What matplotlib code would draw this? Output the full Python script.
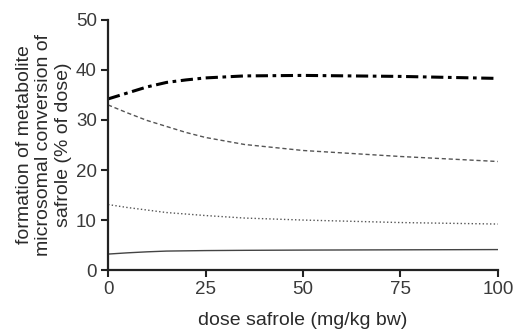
import matplotlib.pyplot as plt

plt.rcParams['font.family'] = ['Liberation Sans', 'DejaVu Sans']

# dose safrole (mg/kg bw)
dose = [0, 5, 10, 15, 20, 25, 35, 50, 75, 100]

# conversion / metabolite formation (% of dose)
conversion = [34.2, 35.4, 36.6, 37.5, 38.0, 38.4, 38.8, 38.9, 38.7, 38.3]
metabolite_a = [33.0, 31.4, 29.9, 28.7, 27.5, 26.5, 25.1, 23.9, 22.7, 21.7]
metabolite_b = [13.1, 12.5, 12.0, 11.5, 11.2, 10.9, 10.4, 10.0, 9.5, 9.2]
metabolite_c = [3.2, 3.45, 3.65, 3.8, 3.85, 3.9, 3.95, 4.0, 4.05, 4.1]

xticks = [0, 25, 50, 75, 100]
yticks = [0, 10, 20, 30, 40, 50]

fig = plt.figure(figsize=(5.17, 3.31), dpi=100)
ax = fig.add_axes([0.209, 0.184, 0.754, 0.756])

ax.plot(dose, conversion, color='black', lw=2.2, dashes=(4, 1.5, 1.2, 1.5))
ax.plot(dose, metabolite_a, color='#555555', lw=1.0, dashes=(3, 2))
ax.plot(dose, metabolite_b, color='#555555', lw=1.0, linestyle=':')
ax.plot(dose, metabolite_c, color='#444444', lw=1.0)

ax.set_xlim(0, 100)
ax.set_ylim(0, 50)
ax.set_xticks(xticks)
ax.set_yticks(yticks)

for s in ['top', 'right']:
    ax.spines[s].set_visible(False)
for s in ['left', 'bottom']:
    ax.spines[s].set_linewidth(1.6)
    ax.spines[s].set_color('#222222')
ax.tick_params(direction='out', length=5, width=1.5, color='#222222',
               labelsize=13.5, labelcolor='#3a3a3a', pad=3)

ax.set_xlabel('dose safrole (mg/kg bw)', fontsize=14, color='#2a2a2a', labelpad=10)
ax.set_ylabel('formation of metabolite\nmicrosomal conversion of\nsafrole (% of dose)',
              fontsize=14, color='#2a2a2a', linespacing=1.2, labelpad=3)

fig.savefig('out.png', dpi=100)
